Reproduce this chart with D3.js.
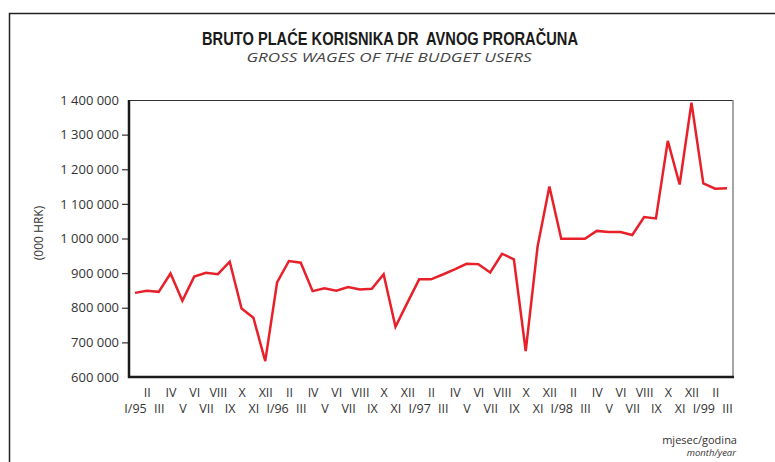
<!DOCTYPE html>
<html>
<head>
<meta charset="utf-8">
<script src="https://cdn.jsdelivr.net/npm/d3@7"></script>
<style>
  body { margin: 0; background: #fff; }
  svg { display: block; }
  text { fill: #333; }
</style>
</head>
<body>
<svg id="chart" width="775" height="462"></svg>
<script>
// month labels (roman numerals), years shown on January
let romans = ["I", "II", "III", "IV", "V", "VI", "VII", "VIII", "IX", "X", "XI", "XII"];
let years = ["95", "96", "97", "98", "99"];

// gross wages, 000 HRK, I/95 .. III/99
let wages = [
  843000, 849000, 846000, 899000, 820000, 890000, 901000, 897000, 933000, 798000, 771000, 646000,
  873000, 935000, 930000, 848000, 856000, 849000, 860000, 853000, 855000, 897000, 745000, 814000,
  882000, 882000, 896000, 911000, 927000, 926000, 902000, 956000, 940000, 675000, 976000, 1150000,
  999000, 999000, 999000, 1022000, 1019000, 1019000, 1010000, 1062000, 1058000, 1282000, 1156000, 1392000,
  1159000, 1144000, 1145000
];

let yTicks = [600000, 700000, 800000, 900000, 1000000, 1100000, 1200000, 1300000, 1400000];

let labels = wages.map((v, i) => {
  let m = i % 12;
  return m === 0 ? romans[m] + "/" + years[Math.floor(i / 12)] : romans[m];
});

let plot = {left: 129, right: 733, top: 100, bottom: 377};
let svg = d3.select("#chart");
let fontMain = "'Open Sans', 'DejaVu Sans', sans-serif";

let x = d3.scaleLinear()
  .domain([0, wages.length - 1])
  .range([135, 727]);
let y = d3.scaleLinear()
  .domain([600000, 1400000])
  .range([plot.bottom, plot.top]);

// outer frame (left + top only)
svg.append("path")
  .attr("d", "M9.5,462V13.5H775")
  .attr("fill", "none")
  .attr("stroke", "#222")
  .attr("stroke-width", 1.5);

// titles
svg.append("text")
  .attr("x", 390).attr("y", 45)
  .attr("text-anchor", "middle")
  .attr("font-family", "'Liberation Sans Narrow', 'Liberation Sans', sans-serif")
  .attr("font-weight", "bold")
  .attr("font-size", 18)
  .attr("textLength", 376)
  .attr("lengthAdjust", "spacingAndGlyphs")
  .style("white-space", "pre")
  .style("fill", "#1a1a1a")
  .text("BRUTO PLAĆE KORISNIKA DR  AVNOG PRORAČUNA");

svg.append("text")
  .attr("x", 389).attr("y", 62)
  .attr("text-anchor", "middle")
  .attr("font-family", fontMain)
  .attr("font-style", "italic")
  .attr("font-size", 12)
  .attr("textLength", 285)
  .attr("lengthAdjust", "spacingAndGlyphs")
  .style("fill", "#444")
  .text("GROSS WAGES OF THE BUDGET USERS");

// y axis
let fmt = v => d3.format(",")(v).replace(/,/g, " ");
let yAxis = svg.append("g")
  .attr("transform", "translate(" + plot.left + ",0)")
  .call(d3.axisLeft(y).tickValues(yTicks).tickFormat(fmt).tickSize(7).tickPadding(3));
yAxis.select(".domain").remove();
yAxis.selectAll(".tick line")
  .attr("stroke", "#333")
  .attr("stroke-width", 1.2)
  .filter(d => d === 600000 || d === 1400000).remove();
yAxis.selectAll(".tick text")
  .attr("font-family", fontMain)
  .attr("font-size", 13)
  .style("fill", "#333");

svg.append("text")
  .attr("transform", "translate(43,233) rotate(-90)")
  .attr("text-anchor", "middle")
  .attr("font-family", fontMain)
  .attr("font-size", 12)
  .text("(000 HRK)");

// x axis labels in two rows
let xAxis = svg.append("g")
  .attr("transform", "translate(0," + plot.bottom + ")")
  .call(d3.axisBottom(x).tickValues(d3.range(wages.length)).tickFormat(i => labels[i]).tickSize(0));
xAxis.select(".domain").remove();
xAxis.selectAll(".tick text")
  .attr("font-family", fontMain)
  .attr("font-size", 12.5)
  .style("fill", "#333")
  .attr("dy", null)
  .attr("y", i => i % 2 === 1 ? 20 : 36);

// plot box
svg.append("line")
  .attr("x1", plot.left).attr("x2", plot.right)
  .attr("y1", plot.top + 0.5).attr("y2", plot.top + 0.5)
  .attr("stroke", "#333").attr("stroke-width", 1);
svg.append("line")
  .attr("x1", plot.right).attr("x2", plot.right)
  .attr("y1", plot.top).attr("y2", plot.bottom)
  .attr("stroke", "#888").attr("stroke-width", 1.5);

// the series
let line = d3.line()
  .x((d, i) => x(i))
  .y(d => y(d));
svg.append("path")
  .datum(wages)
  .attr("d", line)
  .attr("fill", "none")
  .attr("stroke", "#e8202a")
  .attr("stroke-width", 2.5)
  .attr("stroke-linejoin", "miter");

svg.append("path")
  .attr("d", "M" + plot.left + "," + plot.top + "V" + plot.bottom + "H" + (plot.right + 1))
  .attr("fill", "none")
  .attr("stroke", "#1a1a1a")
  .attr("stroke-width", 2.5);

// axis note
svg.append("text")
  .attr("x", 737).attr("y", 444)
  .attr("text-anchor", "end")
  .attr("font-family", fontMain)
  .attr("font-size", 11)
  .text("mjesec/godina");
svg.append("text")
  .attr("x", 736).attr("y", 456)
  .attr("text-anchor", "end")
  .attr("font-family", fontMain)
  .attr("font-style", "italic")
  .attr("font-size", 9.5)
  .text("month/year");
</script>
</body>
</html>
